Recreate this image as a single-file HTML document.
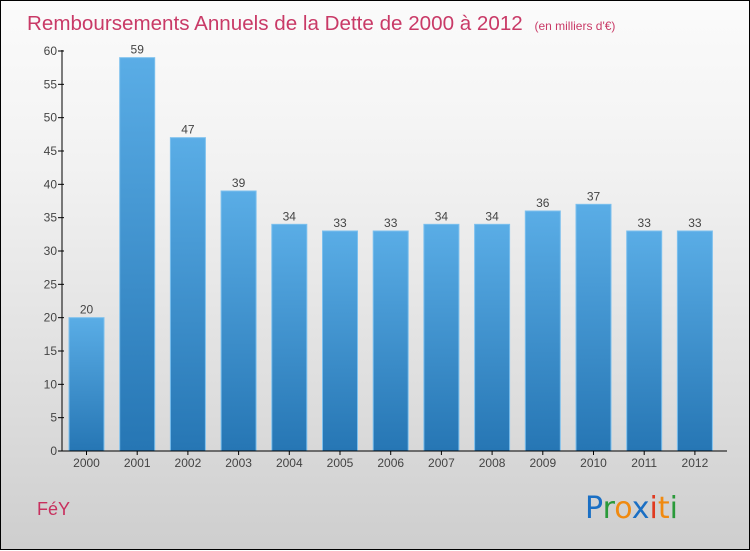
<!DOCTYPE html>
<html><head><meta charset="utf-8"><style>
html,body{margin:0;padding:0}
body{width:750px;height:550px;overflow:hidden}
#wrap{position:relative;width:748px;height:548px;border:1px solid #000;background:linear-gradient(#fbfbfb,#f2f2f2 30%,#dcdcdc 75%,#cecece);font-family:"Liberation Sans",sans-serif}
svg{position:absolute;left:0;top:0}
</style></head><body>
<div id="wrap">
<svg id="chart" width="750" height="550">
<defs><linearGradient id="bg" x1="0" y1="0" x2="0" y2="1"><stop offset="0" stop-color="#5aade6"/><stop offset="1" stop-color="#2676b4"/></linearGradient></defs>
<text x="26" y="29" font-size="20.6" fill="#c93a67">Remboursements Annuels de la Dette de 2000 à 2012 <tspan font-size="12" dx="6">(en milliers d'€)</tspan></text>
<text x="36" y="514" font-size="18" fill="#c8305e">FéY</text>
<g font-size="30" font-family="'DejaVu Sans',sans-serif">
<text x="584" y="517"><tspan fill="#1a6fc4">P</tspan><tspan fill="#2a9a3a">r</tspan><tspan fill="#f08a10">o</tspan><tspan fill="#1a6fc4">x</tspan><tspan fill="#e03a20">i</tspan><tspan fill="#f08a10">t</tspan><tspan fill="#2a9a3a">i</tspan></text></g>
<g id="bars"></g><g id="axes"></g>
</svg></div>
<script>
const categories=["2000","2001","2002","2003","2004","2005","2006","2007","2008","2009","2010","2011","2012"];
const values=[20,59,47,39,34,33,33,34,34,36,37,33,33];
const yTicks=[0,5,10,15,20,25,30,35,40,45,50,55,60];
const NS="http://www.w3.org/2000/svg";
const y0=450,yTop=50,yMax=60,xL=61,x0c=85.5,step=50.7,bw=35;
const ys=v=>y0-(v/yMax)*(y0-yTop);
const xs=i=>x0c+i*step;
function mk(t,a,p){const e=document.createElementNS(NS,t);for(const k in a)e.setAttribute(k,a[k]);p.appendChild(e);return e;}
const bars=document.getElementById('bars'),axes=document.getElementById('axes');
values.forEach((v,i)=>{
 const r=mk('rect',{x:xs(i)-bw/2,y:ys(v),width:bw,height:y0-ys(v),fill:'url(#bg)',stroke:'#7cc0ee','stroke-width':1},bars);
 
 
 const t=mk('text',{x:xs(i),y:ys(v)-4,'font-size':12,fill:'#444','text-anchor':'middle'},bars);t.textContent=v;
 
 
 const c=mk('text',{x:xs(i),y:y0+16,'font-size':12,fill:'#444','text-anchor':'middle'},axes);c.textContent=categories[i];
 
 
 mk('line',{x1:xs(i),x2:xs(i),y1:y0,y2:y0+4,stroke:'#000'},axes);
});
const ya=mk('line',{x1:xL,x2:xL,y1:yTop-1,y2:y0,stroke:'#000'},axes);


const xa=mk('line',{x1:xL-4,x2:726,y1:y0,y2:y0,stroke:'#000'},axes);


yTicks.forEach(v=>{
 mk('line',{x1:xL-4,x2:xL+2,y1:ys(v),y2:ys(v),stroke:'#000'},axes);
 const t=mk('text',{x:xL-5,y:ys(v)+4,'font-size':12,fill:'#444','text-anchor':'end'},axes);t.textContent=v;
 
 
});
</script>
</body></html>
